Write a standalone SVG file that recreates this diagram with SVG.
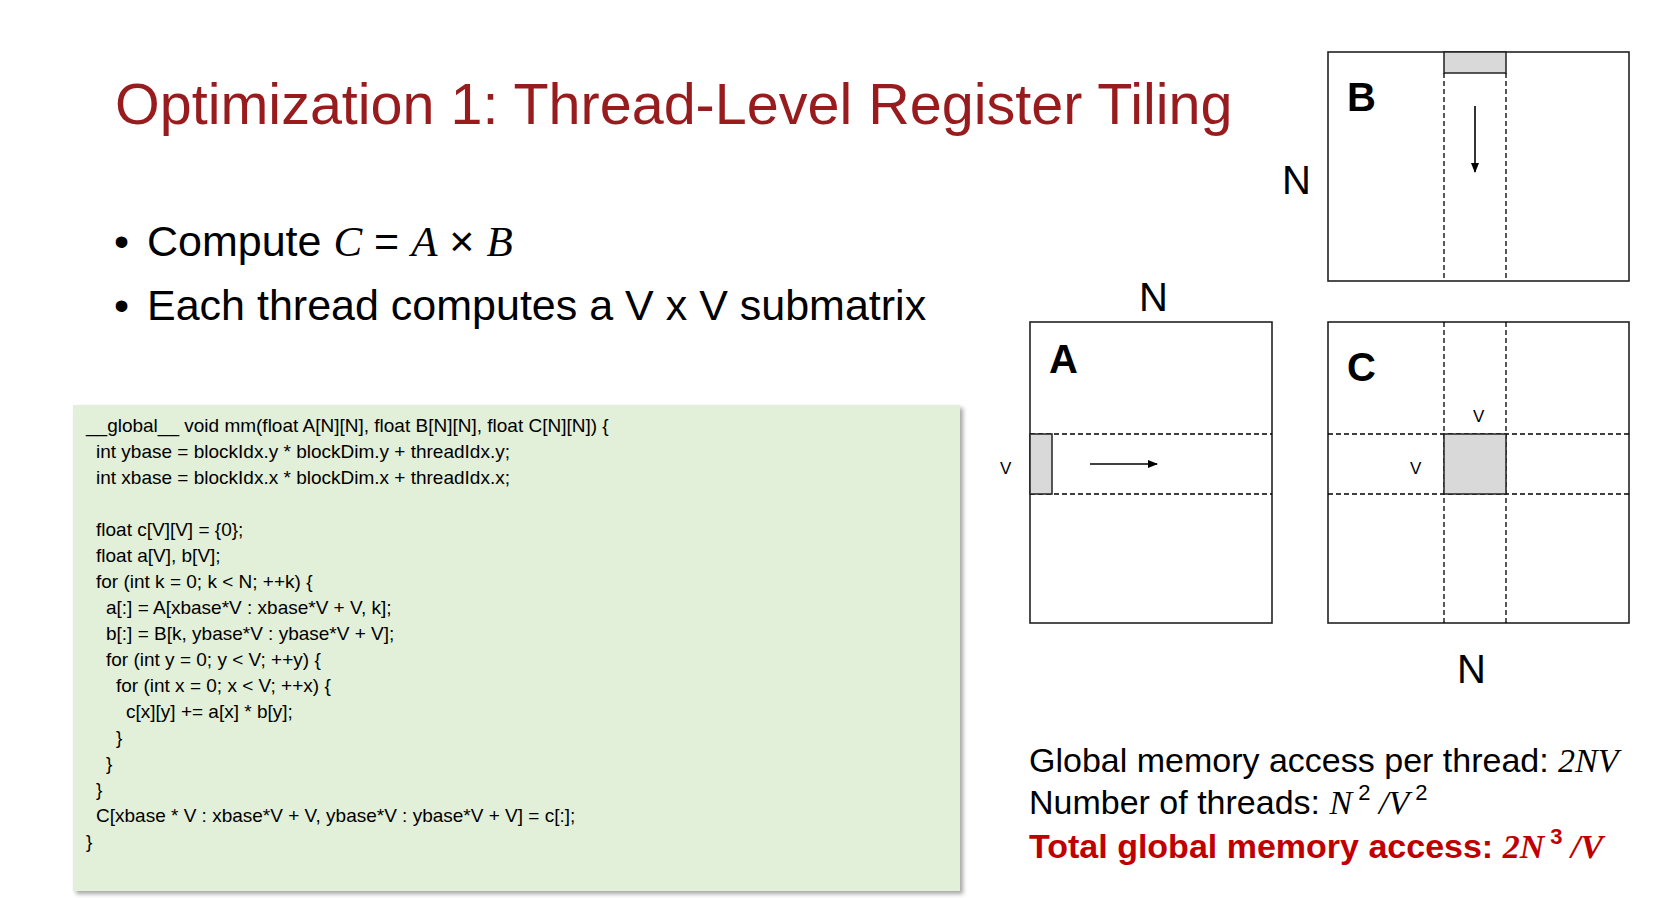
<svg xmlns="http://www.w3.org/2000/svg" width="1678" height="898" viewBox="0 0 1678 898">
<style>
.s{font-family:"Liberation Sans",Arial,sans-serif}
.code{font-family:"Liberation Sans Narrow","Liberation Sans",Arial,sans-serif;font-size:19px;fill:#000}
.m{font-family:"Liberation Serif","Times New Roman",serif;font-style:italic}
.box{fill:#fff;stroke:#222;stroke-width:1.6}
.d{stroke:#000;stroke-width:1.3;stroke-dasharray:5,3;fill:none}
.g{fill:#d9d9d9;stroke:#222;stroke-width:1.5}
.lbl{font-family:"Liberation Sans",Arial,sans-serif;font-weight:bold;font-size:40px}
.n{font-family:"Liberation Sans",Arial,sans-serif;font-size:40px}
.v{font-family:"Liberation Sans",Arial,sans-serif;font-size:17px}
</style>
<defs>
<marker id="ah" markerWidth="10" markerHeight="8" refX="9" refY="4" orient="auto" markerUnits="userSpaceOnUse"><path d="M0,0 L10,4 L0,8 Z" fill="#000"/></marker>
<filter id="sh" x="-5%" y="-5%" width="110%" height="110%"><feDropShadow dx="3" dy="3" stdDeviation="2" flood-color="#000" flood-opacity="0.35"/></filter>
</defs>
<rect width="1678" height="898" fill="#fff"/>
<text class="s" x="115" y="124" font-size="57.5" fill="#981b1e">Optimization 1: Thread-Level Register Tiling</text>
<g id="bullets" class="s" font-size="43">
<text x="114" y="256">•</text><text x="147" y="256">Compute <tspan class="m">C</tspan> = <tspan class="m">A</tspan> × <tspan class="m">B</tspan></text>
<text x="114" y="320">•</text><text x="147" y="320">Each thread computes a V x V submatrix</text>
</g>
<g id="code">
<rect x="73" y="405" width="887" height="486" fill="#e2efd9" filter="url(#sh)"/>
<g class="code" xml:space="preserve">
<text x="86" y="432">__global__ void mm(float A[N][N], float B[N][N], float C[N][N]) {</text>
<text x="96" y="458">int ybase = blockIdx.y * blockDim.y + threadIdx.y;</text>
<text x="96" y="484">int xbase = blockIdx.x * blockDim.x + threadIdx.x;</text>
<text x="96" y="536">float c[V][V] = {0};</text>
<text x="96" y="562">float a[V], b[V];</text>
<text x="96" y="588">for (int k = 0; k &lt; N; ++k) {</text>
<text x="106" y="614">a[:] = A[xbase*V : xbase*V + V, k];</text>
<text x="106" y="640">b[:] = B[k, ybase*V : ybase*V + V];</text>
<text x="106" y="666">for (int y = 0; y &lt; V; ++y) {</text>
<text x="116" y="692">for (int x = 0; x &lt; V; ++x) {</text>
<text x="126" y="718">c[x][y] += a[x] * b[y];</text>
<text x="116" y="744">}</text>
<text x="106" y="770">}</text>
<text x="96" y="796">}</text>
<text x="96" y="822">C[xbase * V : xbase*V + V, ybase*V : ybase*V + V] = c[:];</text>
<text x="86" y="848">}</text>
</g>
</g>
<g transform="translate(-6,-2)">
<g id="matB">
<rect class="box" x="1334" y="54" width="301" height="229"/>
<rect class="g" x="1450" y="54" width="62" height="21"/>
<line class="d" x1="1450" y1="75" x2="1450" y2="283"/>
<line class="d" x1="1512" y1="75" x2="1512" y2="283"/>
<text class="lbl" x="1353" y="113">B</text>
<text class="n" x="1288" y="196">N</text>
</g>
<g id="matA">
<rect class="box" x="1036" y="324" width="242" height="301"/>
<line class="d" x1="1036" y1="436" x2="1278" y2="436"/>
<line class="d" x1="1036" y1="496" x2="1278" y2="496"/>
<rect class="g" x="1036" y="436" width="22" height="60"/>
<text class="lbl" x="1055" y="375">A</text>
<text class="n" x="1145" y="313">N</text>
<text class="v" x="1006" y="476">V</text>
</g>
<g id="matC">
<rect class="box" x="1334" y="324" width="301" height="301"/>
<line class="d" x1="1450" y1="324" x2="1450" y2="625"/>
<line class="d" x1="1512" y1="324" x2="1512" y2="625"/>
<line class="d" x1="1334" y1="436" x2="1635" y2="436"/>
<line class="d" x1="1334" y1="496" x2="1635" y2="496"/>
<rect class="g" x="1450" y="436" width="62" height="60"/>
<text class="lbl" x="1353" y="383">C</text>
<text class="v" x="1479" y="424">V</text>
<text class="v" x="1416" y="476">V</text>
<text class="n" x="1463" y="685">N</text>
</g>
<g id="connectors" stroke="#000" stroke-width="1.6">
<line x1="1481" y1="108" x2="1481" y2="174" marker-end="url(#ah)"/>
<line x1="1096" y1="466" x2="1163" y2="466" marker-end="url(#ah)"/>
</g>
</g>
<g id="stats" class="s" font-size="34">
<text x="1029" y="772">Global memory access per thread: <tspan class="m">2NV</tspan></text>
<text x="1029" y="814">Number of threads: <tspan class="m">N</tspan><tspan font-size="22" dy="-14"> 2</tspan><tspan dy="14" class="m"> /V</tspan><tspan font-size="22" dy="-14"> 2</tspan></text>
<text x="1029" y="858" fill="#c00000" font-weight="bold">Total global memory access: <tspan class="m">2N</tspan><tspan font-size="22" dy="-14"> 3</tspan><tspan dy="14" class="m"> /V</tspan></text>
</g>
</svg>
